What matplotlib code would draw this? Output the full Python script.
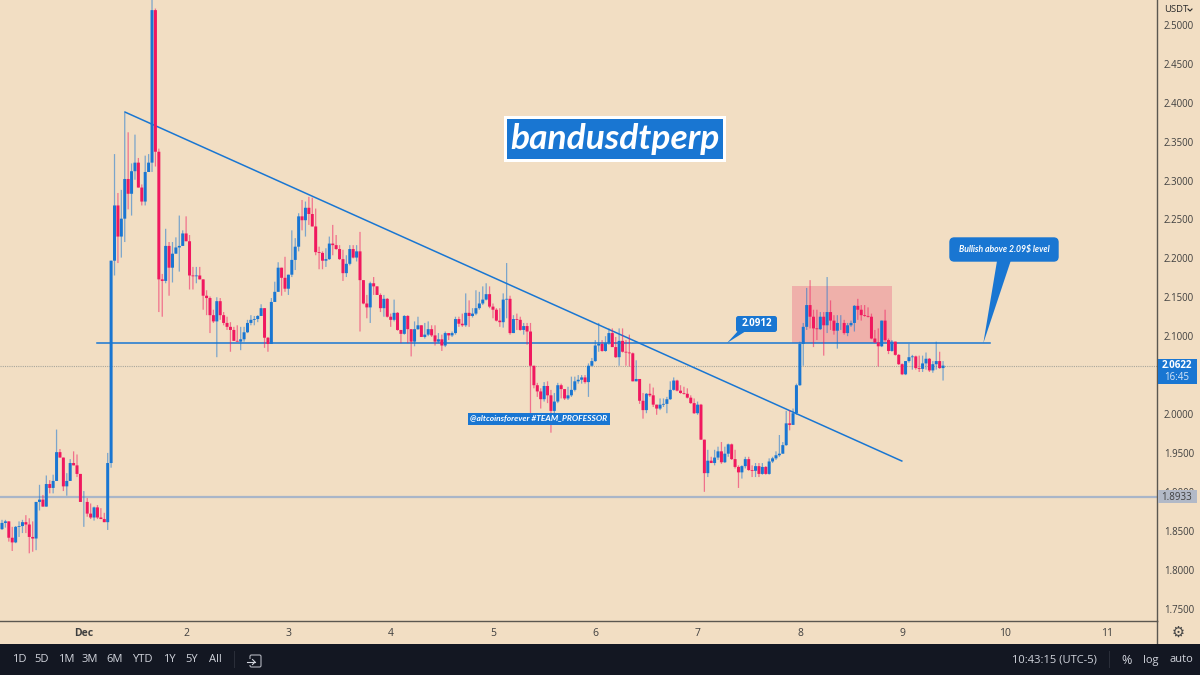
"""BANDUSDT perp candle chart with trendline, level and callouts (TradingView look)."""

import numpy as np
import matplotlib
matplotlib.use("Agg")
import matplotlib.pyplot as plt
from matplotlib.patches import FancyBboxPatch, Polygon, Rectangle
from matplotlib.transforms import Affine2D

plt.rcParams["font.family"] = ["Open Sans", "DejaVu Sans"]

FIRST_OPEN = 1.852
CLOSES = [
    1.860, 1.862, 1.841, 1.835, 1.855, 1.856, 1.861, 1.858, 1.842, 1.840,
    1.887, 1.890, 1.881, 1.910, 1.905, 1.914, 1.951, 1.944, 1.907, 1.914,
    1.937, 1.934, 1.923, 1.887, 1.887, 1.872, 1.867, 1.880, 1.867, 1.865,
    1.861, 1.937, 2.197, 2.268, 2.228, 2.251, 2.302, 2.283, 2.312, 2.323,
    2.291, 2.273, 2.311, 2.323, 2.519, 2.337, 2.173, 2.171, 2.216, 2.188,
    2.206, 2.214, 2.216, 2.232, 2.222, 2.178, 2.177, 2.178, 2.173, 2.152,
    2.149, 2.127, 2.119, 2.145, 2.127, 2.117, 2.112, 2.108, 2.094, 2.093,
    2.096, 2.105, 2.117, 2.121, 2.122, 2.126, 2.136, 2.098, 2.090, 2.144,
    2.157, 2.188, 2.175, 2.161, 2.179, 2.198, 2.215, 2.254, 2.249, 2.265,
    2.257, 2.241, 2.208, 2.207, 2.197, 2.199, 2.219, 2.217, 2.212, 2.199,
    2.181, 2.193, 2.212, 2.201, 2.209, 2.172, 2.142, 2.137, 2.168, 2.164,
    2.153, 2.136, 2.148, 2.125, 2.121, 2.130, 2.108, 2.103, 2.126, 2.109,
    2.093, 2.109, 2.114, 2.099, 2.102, 2.109, 2.101, 2.093, 2.096, 2.088,
    2.104, 2.101, 2.104, 2.122, 2.116, 2.114, 2.130, 2.126, 2.129, 2.136,
    2.142, 2.147, 2.154, 2.138, 2.134, 2.120, 2.118, 2.147, 2.148, 2.104,
    2.122, 2.121, 2.108, 2.113, 2.106, 2.062, 2.037, 2.029, 2.019, 2.036,
    2.024, 2.004, 2.016, 2.037, 2.032, 2.020, 2.024, 2.031, 2.042, 2.044,
    2.047, 2.041, 2.062, 2.068, 2.088, 2.090, 2.081, 2.091, 2.104, 2.086,
    2.073, 2.094, 2.080, 2.079, 2.078, 2.042, 2.045, 2.017, 2.005, 2.026,
    2.024, 2.012, 2.007, 2.012, 2.013, 2.019, 2.031, 2.043, 2.030, 2.027,
    2.026, 2.021, 2.014, 2.001, 2.012, 1.967, 1.924, 1.940, 1.937, 1.944,
    1.952, 1.938, 1.949, 1.961, 1.942, 1.932, 1.925, 1.933, 1.942, 1.928,
    1.927, 1.933, 1.923, 1.932, 1.923, 1.939, 1.943, 1.947, 1.949, 1.960,
    1.988, 1.986, 2.001, 2.037, 2.090, 2.112, 2.140, 2.125, 2.110, 2.109,
    2.125, 2.114, 2.131, 2.120, 2.107, 2.117, 2.117, 2.104, 2.114, 2.117,
    2.139, 2.134, 2.127, 2.126, 2.125, 2.097, 2.092, 2.087, 2.120, 2.095,
    2.081, 2.093, 2.076, 2.064, 2.051, 2.068, 2.073, 2.074, 2.059, 2.058,
    2.065, 2.071, 2.056, 2.064, 2.068, 2.059, 2.0622,
]
HIGHS = [
    1.864, 1.864, 1.862, 1.855, 1.856, 1.862, 1.864, 1.870, 1.866, 1.862,
    1.887, 1.909, 1.896, 1.921, 1.915, 1.922, 1.980, 1.955, 1.944, 1.924,
    1.942, 1.952, 1.948, 1.923, 1.901, 1.892, 1.885, 1.881, 1.883, 1.879,
    1.873, 1.950, 2.197, 2.334, 2.284, 2.288, 2.387, 2.362, 2.322, 2.359,
    2.329, 2.295, 2.332, 2.334, 2.542, 2.521, 2.341, 2.180, 2.238, 2.221,
    2.221, 2.227, 2.255, 2.236, 2.254, 2.230, 2.189, 2.189, 2.189, 2.173,
    2.159, 2.151, 2.134, 2.150, 2.149, 2.131, 2.125, 2.118, 2.112, 2.114,
    2.112, 2.112, 2.121, 2.127, 2.126, 2.127, 2.141, 2.136, 2.099, 2.149,
    2.170, 2.195, 2.188, 2.202, 2.179, 2.236, 2.226, 2.258, 2.275, 2.273,
    2.279, 2.278, 2.264, 2.215, 2.209, 2.213, 2.228, 2.243, 2.230, 2.217,
    2.211, 2.204, 2.217, 2.217, 2.217, 2.234, 2.172, 2.153, 2.170, 2.176,
    2.164, 2.155, 2.153, 2.149, 2.129, 2.147, 2.131, 2.108, 2.127, 2.127,
    2.109, 2.119, 2.125, 2.114, 2.117, 2.119, 2.114, 2.114, 2.104, 2.102,
    2.106, 2.103, 2.106, 2.125, 2.125, 2.129, 2.155, 2.146, 2.136, 2.159,
    2.157, 2.164, 2.168, 2.164, 2.142, 2.136, 2.136, 2.155, 2.194, 2.152,
    2.127, 2.129, 2.125, 2.117, 2.117, 2.117, 2.062, 2.040, 2.033, 2.041,
    2.042, 2.031, 2.027, 2.040, 2.039, 2.032, 2.035, 2.048, 2.048, 2.050,
    2.050, 2.050, 2.065, 2.072, 2.095, 2.117, 2.095, 2.100, 2.110, 2.110,
    2.099, 2.110, 2.110, 2.095, 2.102, 2.079, 2.069, 2.045, 2.027, 2.027,
    2.039, 2.034, 2.012, 2.020, 2.020, 2.022, 2.042, 2.047, 2.044, 2.037,
    2.035, 2.033, 2.024, 2.020, 2.016, 2.013, 1.967, 1.954, 1.945, 1.954,
    1.958, 1.964, 1.958, 1.962, 1.962, 1.954, 1.934, 1.934, 1.945, 1.945,
    1.934, 1.937, 1.937, 1.937, 1.933, 1.943, 1.945, 1.952, 1.973, 1.964,
    2.004, 2.005, 2.007, 2.039, 2.093, 2.117, 2.162, 2.172, 2.134, 2.134,
    2.131, 2.131, 2.176, 2.146, 2.127, 2.127, 2.127, 2.121, 2.117, 2.120,
    2.140, 2.148, 2.140, 2.140, 2.137, 2.129, 2.108, 2.110, 2.120, 2.134,
    2.097, 2.095, 2.093, 2.077, 2.065, 2.068, 2.090, 2.076, 2.075, 2.075,
    2.075, 2.079, 2.072, 2.068, 2.093, 2.080, 2.068,
]
LOWS = [
    1.851, 1.854, 1.836, 1.824, 1.834, 1.842, 1.847, 1.847, 1.821, 1.823,
    1.825, 1.876, 1.881, 1.881, 1.898, 1.898, 1.914, 1.944, 1.901, 1.895,
    1.914, 1.934, 1.919, 1.887, 1.855, 1.868, 1.865, 1.863, 1.865, 1.865,
    1.861, 1.851, 1.931, 2.178, 2.194, 2.201, 2.221, 2.263, 2.255, 2.301,
    2.291, 2.268, 2.268, 2.311, 2.311, 2.318, 2.131, 2.125, 2.168, 2.152,
    2.169, 2.206, 2.183, 2.216, 2.222, 2.160, 2.160, 2.168, 2.173, 2.134,
    2.127, 2.104, 2.117, 2.073, 2.121, 2.114, 2.108, 2.080, 2.094, 2.093,
    2.082, 2.093, 2.104, 2.114, 2.114, 2.118, 2.126, 2.085, 2.080, 2.090,
    2.144, 2.157, 2.152, 2.157, 2.153, 2.176, 2.185, 2.209, 2.236, 2.228,
    2.243, 2.241, 2.204, 2.186, 2.186, 2.189, 2.198, 2.204, 2.211, 2.198,
    2.171, 2.176, 2.191, 2.200, 2.196, 2.106, 2.141, 2.123, 2.117, 2.153,
    2.153, 2.131, 2.125, 2.124, 2.112, 2.119, 2.107, 2.091, 2.102, 2.091,
    2.074, 2.087, 2.108, 2.099, 2.097, 2.100, 2.099, 2.088, 2.091, 2.081,
    2.086, 2.095, 2.099, 2.102, 2.112, 2.112, 2.112, 2.112, 2.124, 2.127,
    2.134, 2.140, 2.146, 2.136, 2.123, 2.119, 2.112, 2.111, 2.123, 2.102,
    2.104, 2.108, 2.107, 2.102, 2.089, 2.001, 2.033, 2.022, 2.007, 2.016,
    2.014, 1.976, 1.997, 2.014, 2.020, 2.018, 2.018, 2.022, 2.029, 2.039,
    2.039, 2.039, 2.022, 2.061, 2.067, 2.080, 2.080, 2.080, 2.089, 2.086,
    2.072, 2.062, 2.079, 2.062, 2.061, 2.042, 2.042, 2.013, 1.994, 2.001,
    2.022, 2.009, 1.999, 2.005, 2.009, 2.001, 2.018, 2.030, 2.029, 2.026,
    2.025, 2.020, 2.013, 2.000, 1.999, 1.967, 1.900, 1.919, 1.937, 1.934,
    1.941, 1.936, 1.937, 1.945, 1.941, 1.930, 1.905, 1.917, 1.930, 1.927,
    1.919, 1.919, 1.919, 1.922, 1.922, 1.922, 1.937, 1.941, 1.945, 1.949,
    1.959, 1.979, 1.986, 1.999, 2.036, 2.062, 2.108, 2.110, 2.086, 2.095,
    2.108, 2.075, 2.104, 2.108, 2.102, 2.084, 2.108, 2.102, 2.100, 2.112,
    2.106, 2.121, 2.120, 2.125, 2.124, 2.096, 2.091, 2.061, 2.086, 2.093,
    2.077, 2.080, 2.075, 2.063, 2.050, 2.050, 2.066, 2.057, 2.057, 2.054,
    2.054, 2.057, 2.054, 2.053, 2.057, 2.058, 2.043,
]

# 2.0500 is hidden behind the last price tag in the reference
PRICE_TICKS = [2.50, 2.45, 2.40, 2.35, 2.30, 2.25, 2.20, 2.15, 2.10,
               2.00, 1.95, 1.90, 1.85, 1.80, 1.75]
DAY_LABELS = ["Dec", "2", "3", "4", "5", "6", "7", "8", "9", "10", "11"]
CANDLES_PER_DAY = 30
DEC_INDEX = 24.05  # candle index of the Dec tick

LAST_PRICE = 2.0622
LEVEL = 1.8933
RESIST = 2.0912
RESIST_SPAN = [27.9, 289.7]
TREND_X = [36.07, 263.9]
TREND_Y = [2.388, 1.9396]
BOX_X = [231.7, 260.9]
BOX_Y = [2.0912, 2.1645]

RANGES = ["1D", "5D", "1M", "3M", "6M", "YTD", "1Y", "5Y", "All"]
RANGE_PX = [19, 42, 66, 90, 115, 142, 169, 192, 215]

BG = "#f2dec3"
BLUE = "#1976d2"
RED = "#f0185f"
DARK = "#131722"
TICK = "#3f3f3f"

closes = np.array(CLOSES)
opens = np.r_[FIRST_OPEN, closes[:-1]]
highs = np.array(HIGHS)
lows = np.array(LOWS)
idx = np.arange(len(closes))
up = closes >= opens

fig = plt.figure(figsize=(12, 6.75), dpi=100, facecolor=BG)
# chart area, set by hand so it lines up with the price and time scales
ax = fig.add_axes([0, 54 / 675, 1156.5 / 1200, 621 / 675], facecolor=BG)
ax.set_xlim(-0.586, 338.6)
ax.set_ylim(1.734, 2.532)

# drawings sit under the candles
ax.add_patch(Rectangle((BOX_X[0], BOX_Y[0]), BOX_X[1] - BOX_X[0], BOX_Y[1] - BOX_Y[0],
                       fc="#efb0aa", ec="none", zorder=1))
ax.axhline(LEVEL, color="#a9b5c8", lw=1.6, zorder=1.5)
ax.axhline(LAST_PRICE, color="#a8a69c", lw=0.8, ls=(0, (1, 1)), zorder=1.5)
ax.plot(RESIST_SPAN, [RESIST, RESIST], color=BLUE, lw=1.1, zorder=2)
ax.plot(TREND_X, TREND_Y, color=BLUE, lw=1.1, zorder=2)

colors = np.where(up, BLUE, RED)
wicks = ax.vlines(idx, lows, highs, colors=colors, lw=0.9, alpha=0.55, zorder=3)
wicks.set_snap(False)
bodies = ax.bar(idx, np.abs(closes - opens), bottom=np.minimum(opens, closes), width=0.88,
                color=colors, linewidth=0, zorder=4)
# the reference is a resized screenshot, so unsnapped edges look closer
for body in bodies:
    body.set_snap(False)

ax.yaxis.tick_right()
ax.set_yticks(PRICE_TICKS)
ax.set_yticklabels([f"{p:.4f}" for p in PRICE_TICKS], fontsize=6.9, color=TICK)
ax.set_xticks([DEC_INDEX + CANDLES_PER_DAY * k for k in range(len(DAY_LABELS))])
ax.set_xticklabels(DAY_LABELS, fontsize=7.5, color=TICK)
ax.get_xticklabels()[0].set_fontweight("bold")
ax.tick_params(axis="y", length=0, pad=5.3)
ax.tick_params(axis="x", length=0, pad=5)
for side in ("top", "left"):
    ax.spines[side].set_visible(False)
for side in ("right", "bottom"):
    ax.spines[side].set_color("#5b5750")
    ax.spines[side].set_linewidth(1.0)

# overlay in image pixels, y pointing down: fig is 1200x675 at dpi 100
px = Affine2D().scale(1, -1).translate(0, 675)


def box(x0, y0, x1, y1, color, zorder=5, rounded=0.0):
    style = f"round,pad=0,rounding_size={rounded}" if rounded else "square,pad=0"
    patch = FancyBboxPatch((x0, y0), x1 - x0, y1 - y0, boxstyle=style, fc=color, ec="none",
                           transform=px, zorder=zorder)
    fig.add_artist(patch)


def label(x, y, s, color="white", size=8, ha="center", weight="normal", style="normal",
          zorder=6, family=None):
    fig.text(x, y, s, transform=px, color=color, fontsize=size, ha=ha, va="center",
             fontweight=weight, fontstyle=style, zorder=zorder, family=family)


# right edge of the time scale
fig.add_artist(plt.Line2D([1156.5, 1156.5], [621, 644], color="#5b5750", lw=1.0, transform=px))

# title banner
box(504, 115.7, 726, 162, "white")
box(507, 118.7, 723, 159, BLUE, zorder=5.5)
label(614.5, 139, "bandusdtperp", size=25.5, weight="bold", style="italic", family="Lato")

# hashtag label
box(468, 413, 610, 425, BLUE)
label(539, 419, "@altcoinsforever #TEAM_PROFESSOR", size=6, weight="bold", style="italic", family="Lato")

# 2.0912 callout
fig.add_artist(Polygon([(738, 331), (746, 331), (727, 343)], fc=BLUE, ec="none", transform=px, zorder=5))
box(736, 316, 777, 332, BLUE, rounded=2.5)
label(756.5, 324, "2.0912", size=7, weight="bold")

# bullish callout
fig.add_artist(Polygon([(997, 261), (1010.7, 261), (983.3, 343.3)], fc=BLUE, ec="none", transform=px, zorder=5))
box(949.3, 237.3, 1058.7, 261.7, BLUE, rounded=5)
label(1004, 249.5, "Bullish above 2.09$ level", size=6.2, weight="bold", style="italic", family="Lato")

# price scale tags
box(1157.5, 359, 1197, 384, BLUE)
label(1177, 366, "2.0622", size=7, weight="bold")
label(1177, 377, "16:45", size=7, color="#d6e6f7")
box(1157.5, 490, 1197, 503, "#b2b9c7")
label(1177, 497, "1.8933", size=7, color=TICK)
label(1164, 9.5, "USDT", size=6.8, ha="left", color="#2a2a2a")
fig.add_artist(plt.Line2D([1188, 1190, 1192], [9, 11, 9], color="#2a2a2a", lw=0.8, transform=px, zorder=6))
label(1178, 633, "\u2699", size=10.5, color="#444444")

# bottom toolbar
box(0, 644, 1200, 675, DARK)
for x, name in zip(RANGE_PX, RANGES):
    label(x, 660, name, size=8, color="#d1d4dc")
fig.add_artist(Rectangle((234, 651), 0.8, 17, fc="#2a2e39", ec="none", transform=px, zorder=6))
fig.add_artist(Rectangle((1109, 651), 0.8, 17, fc="#2a2e39", ec="none", transform=px, zorder=6))
fig.add_artist(FancyBboxPatch((250, 655), 11, 12, boxstyle="round,pad=0,rounding_size=1.5", fc="none",
                              ec="#b2b5be", lw=0.8, transform=px, zorder=6))
box(247, 659, 251, 665, DARK, zorder=6.5)
fig.add_artist(plt.Line2D([247, 255], [662, 662], color="#d1d4dc", lw=0.8, transform=px, zorder=7))
fig.add_artist(plt.Line2D([252.5, 255, 252.5], [659.5, 662, 664.5], color="#d1d4dc", lw=0.8, transform=px, zorder=7))
label(1097, 660, "10:43:15 (UTC-5)", size=8, ha="right", color="#d1d4dc")
label(1127, 660, "%", size=9, color="#d1d4dc")
label(1151, 660, "log", size=8, color="#d1d4dc")
label(1181, 660, "auto", size=8, color="#d1d4dc")

fig.savefig("out.png", dpi=100, facecolor=BG)
